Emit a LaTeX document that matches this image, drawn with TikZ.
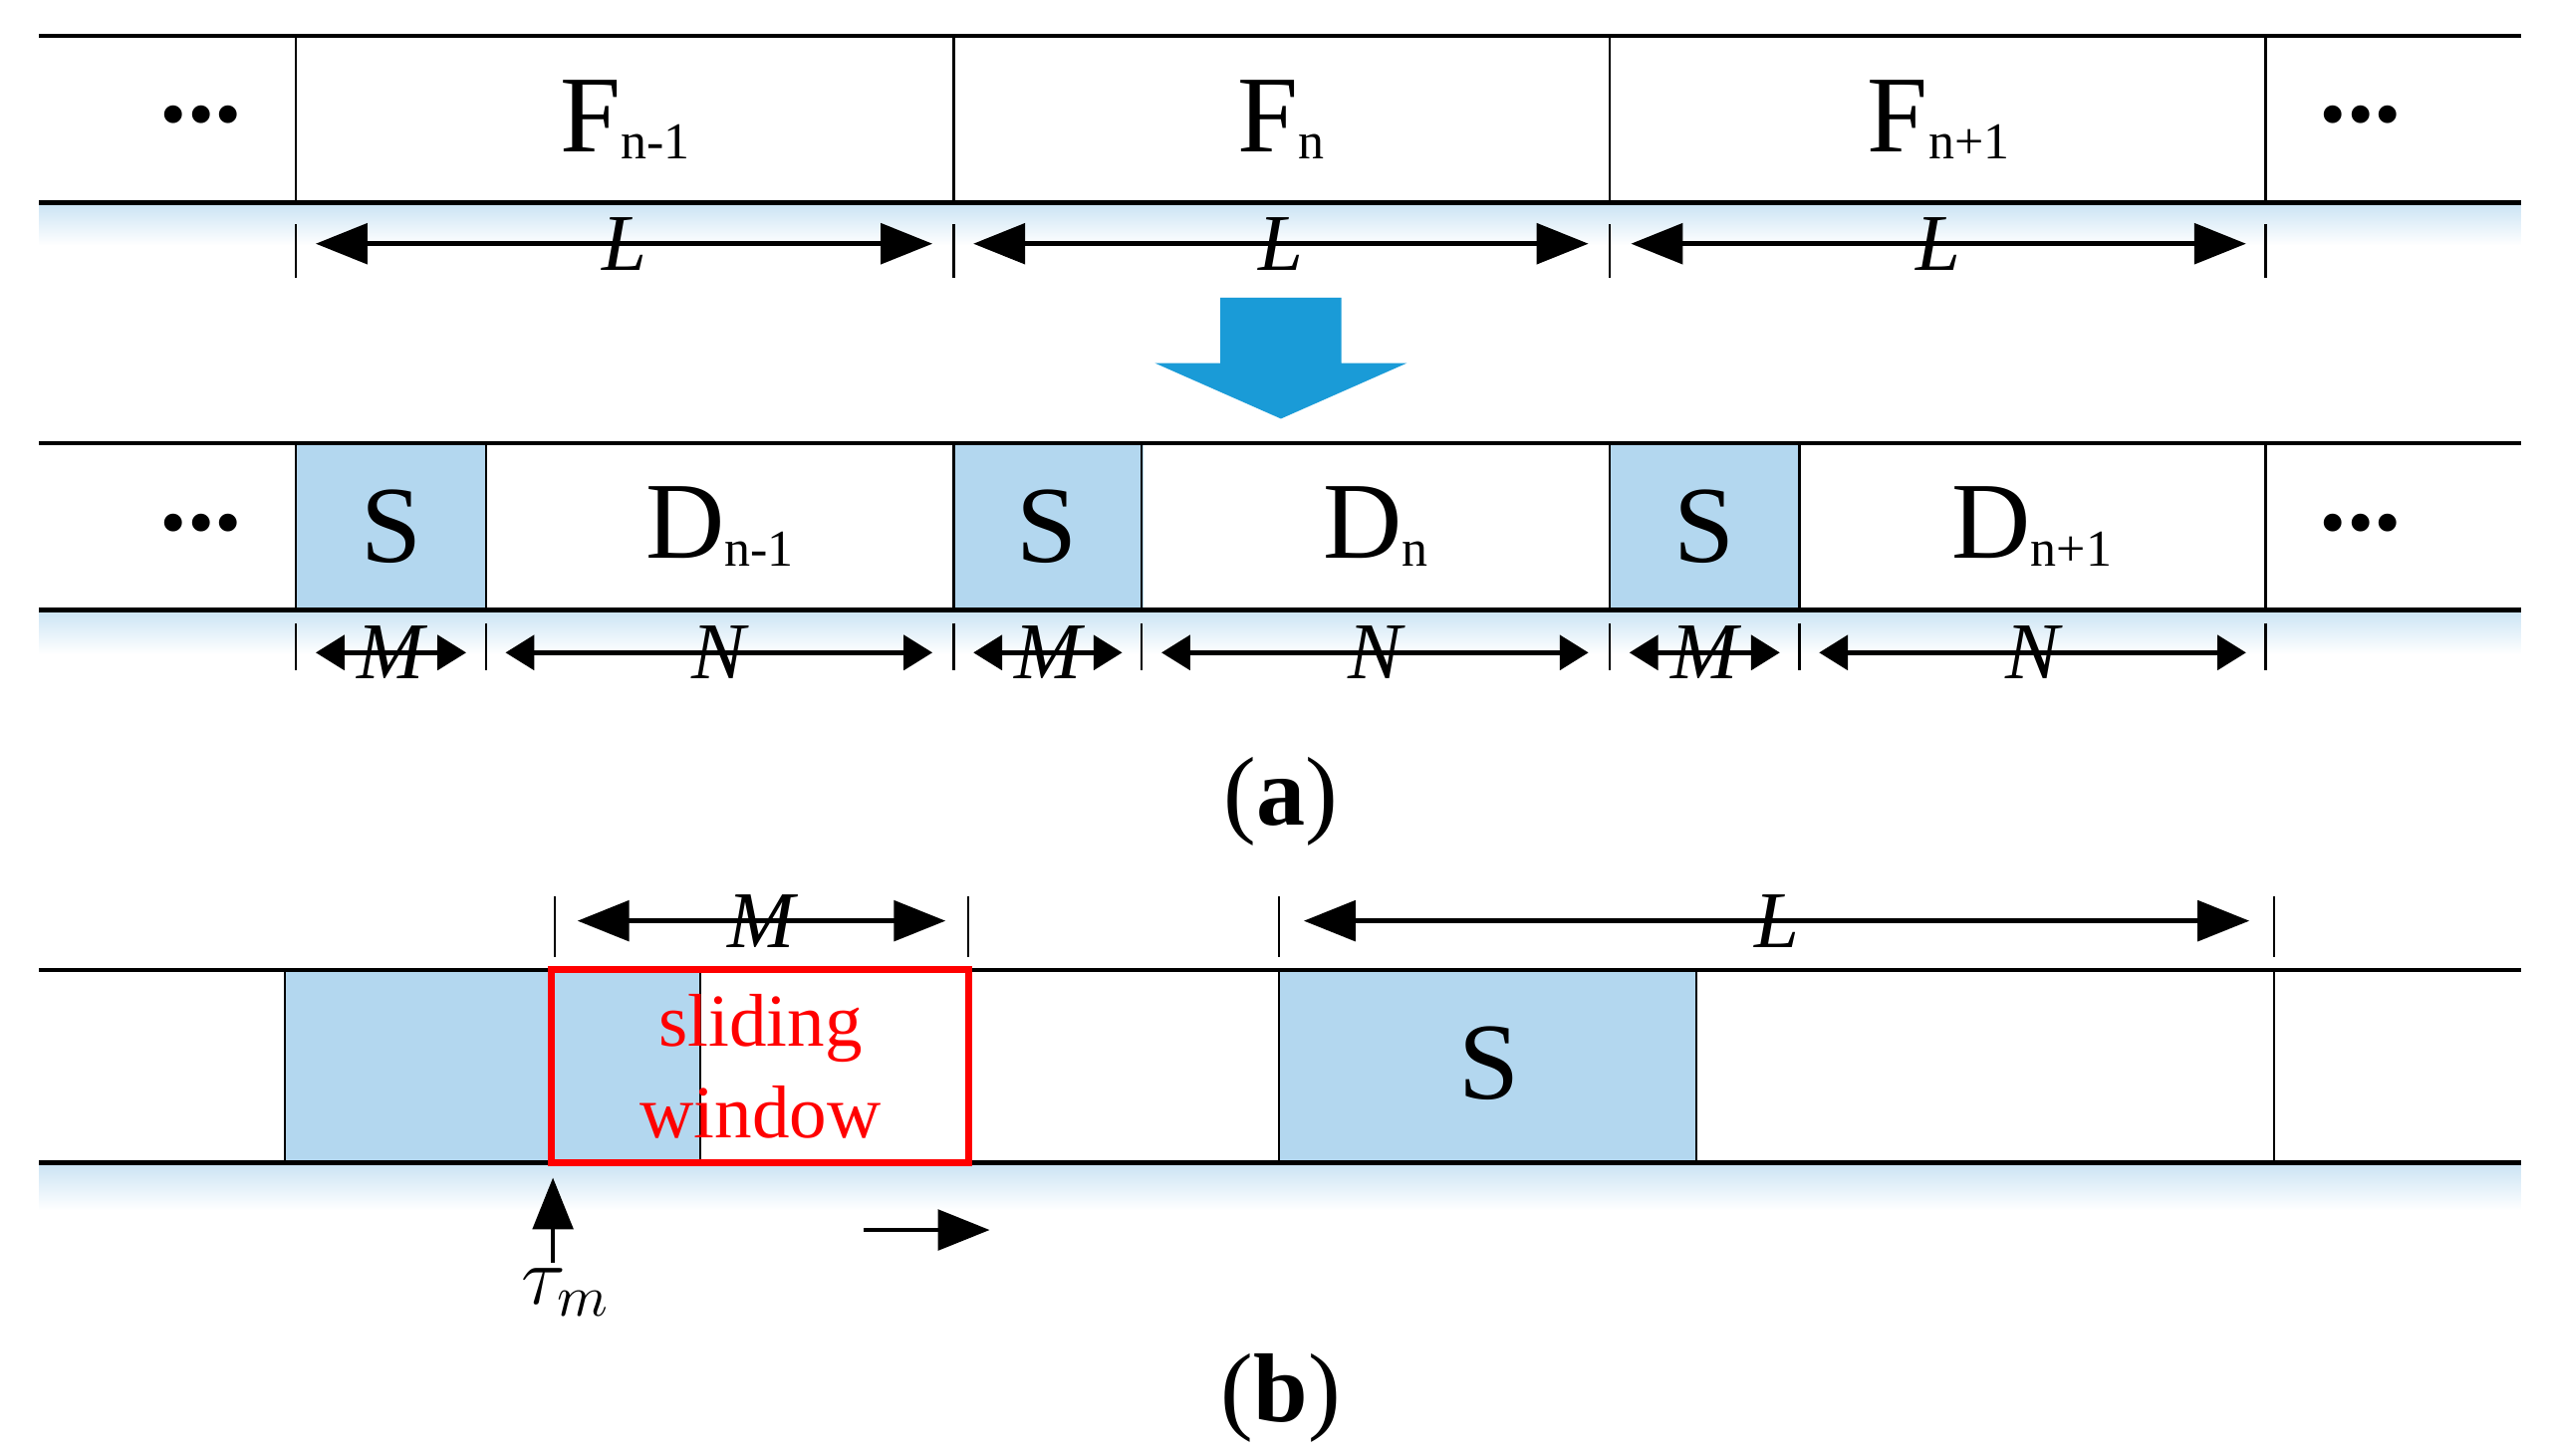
\documentclass[tikz,border=0pt]{standalone}
\usepackage{fontspec}
\setmainfont{Liberation Serif}
\usetikzlibrary{arrows.meta}
\definecolor{sblue}{HTML}{B3D7EF}
\definecolor{abl}{HTML}{1A9BD7}
\newcommand{\sbs}[1]{\raisebox{-0.15ex}{\fontsize{9}{11}\selectfont #1}}
\begin{document}
\begin{tikzpicture}[x=0.01cm,y=-0.01cm,
  big/.style={font=\fontsize{19}{22}\selectfont},
  dim/.style={font=\fontsize{14}{17}\selectfont\itshape},
  dimarr/.style={{Triangle[length=9pt,width=7pt]}-{Triangle[length=9pt,width=7pt]}, thick},
  smarr/.style={{Triangle[length=5pt,width=6pt]}-{Triangle[length=5pt,width=6pt]}, thick},
  tick/.style={thin},
  shad/.style={top color=sblue!70, bottom color=white, draw=none}]
\useasboundingbox (0,0) rectangle (1560,890);
% ---------- row 1
\shade[shad] (24,124) rectangle (1541,150);
\draw[thick] (24,22) -- (1541,22) (24,124) -- (1541,124);
\foreach \x in {181,583,984,1385} \draw (\x,22) -- (\x,124);
\node[big] (d1) at (123,70) {\textbf{...}};
\node[big] (d2) at (1443,70) {\textbf{...}};
\node[big] (f1) at (382,73) {F\sbs{n-1}};
\node[big] (f2) at (783,73) {F\sbs{n}};
\node[big] (f3) at (1185,73) {F\sbs{n+1}};
\foreach \x in {181,583,984,1385} \draw[tick] (\x,137) -- (\x,170);
\foreach \a/\b/\n in {193/570/a,595/971/b,997/1373/c}{
  \coordinate (l\n) at (\a,149); \coordinate (r\n) at (\b,149);
  \draw[dimarr] (l\n) -- (r\n) node[midway,dim] {L};}
% ---------- blue arrow
\fill[abl] (746,182) -- (820,182) -- (820,222) -- (860,222)
  -- (783,256) -- (706,222) -- (746,222) -- cycle;
% ---------- row 2
\shade[shad] (24,373) rectangle (1541,400);
\foreach \x in {181,583,984} \fill[sblue] (\x,271) rectangle ++(116,102);
\draw[thick] (24,271) -- (1541,271) (24,373) -- (1541,373);
\foreach \x in {181,297,583,698,984,1100,1385} \draw (\x,271) -- (\x,373);
\node[big] (e1) at (123,320) {\textbf{...}};
\node[big] (e2) at (1443,320) {\textbf{...}};
\foreach \x/\n in {239/a,640/b,1042/c} \node[big] (s\n) at (\x,322) {S};
\node[big] (g1) at (440,322) {D\sbs{n-1}};
\node[big] (g2) at (841,322) {D\sbs{n}};
\node[big] (g3) at (1242,322) {D\sbs{n+1}};
\foreach \x in {181,297,583,698,984,1100,1385} \draw[tick] (\x,381) -- (\x,410);
\foreach \a/\b/\t in {193/285/M,309/570/N,595/686/M,710/971/N,996/1088/M,1112/1373/N}
  \draw[smarr] (\a,399) -- (\b,399) node[midway,dim] {\t};
\node[font=\fontsize{17}{20}\selectfont] (ca) at (783,490) {(\textbf{a})};
% ---------- part b
\shade[shad] (24,711) rectangle (1541,740);
\fill[sblue] (174,593) rectangle (428,711);
\fill[sblue] (782,593) rectangle (1037,711);
\draw[thick] (24,593) -- (1541,593) (24,711) -- (1541,711);
\foreach \x in {174,782,1037,1390} \draw (\x,593) -- (\x,711);
\draw (428,593) -- (428,711);
\node[big] (sb) at (910,650) {S};
\draw[red, very thick] (337,593) rectangle (592,711);
\node[red, align=center, font=\fontsize{13}{16}\selectfont] (sw) at (465,652) {sliding\\window};
\foreach \x in {339,592,782,1390} \draw[tick] (\x,548) -- (\x,585);
\draw[dimarr] (353,563) -- (578,563) node[midway,dim] {M};
\draw[dimarr] (797,563) -- (1375,563) node[midway,dim] {L};
\coordinate (t0) at (338,772); \coordinate (t1) at (338,720);
\draw[-{Triangle[length=9pt,width=7pt]}, thick] (t0) -- (t1);
\node[font=\fontsize{14}{17}\selectfont] (tau) at (346,790) {$\tau_{m}$};
\coordinate (m0) at (528,752); \coordinate (m1) at (605,752);
\draw[-{Triangle[length=9pt,width=7pt]}, thick] (m0) -- (m1);
\node[font=\fontsize{17}{20}\selectfont] (cb) at (783,855) {(\textbf{b})};
\end{tikzpicture}
\end{document}
